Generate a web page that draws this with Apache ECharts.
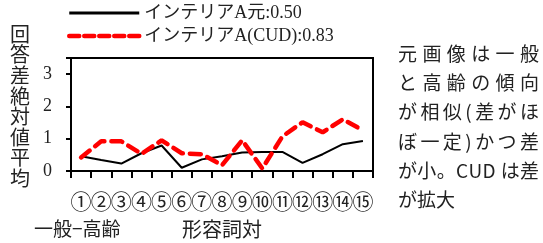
<!DOCTYPE html>
<html>
<head>
<meta charset="UTF-8">
<title>ECharts</title>
<script src="https://cdn.jsdelivr.net/npm/echarts@6/dist/echarts.min.js"></script>
<style>html,body{margin:0;padding:0;background:#fff;} #main{width:543px;height:243px;}</style>
</head>
<body>
<div id="main"></div>
<script>
    // 形容詞対 ①〜⑮
    var categories = ['①','②','③','④','⑤','⑥','⑦','⑧','⑨','⑩','⑪','⑫','⑬','⑭','⑮'];
    var seriesNames = ['インテリアA元', 'インテリアA(CUD)'];
    var seriesAvg = ['0.50', '0.83'];
    var origValues = [0.46, 0.34, 0.23, 0.55, 0.79, 0.10, 0.36, 0.46, 0.57, 0.59, 0.59, 0.25, 0.52, 0.83, 0.93];
    var cudValues = [0.42, 0.92, 0.92, 0.53, 0.95, 0.55, 0.52, 0.18, 0.95, 0.08, 1.07, 1.51, 1.20, 1.60, 1.26];
    var yTicks = [0, 1, 2, 3];
    var noteLines = ['元画像は一般', 'と高齢の傾向', 'が相似(差がほ', 'ぼ一定)かつ差', 'が小。CUD は差', 'が拡大'];

    var font = "'Liberation Serif', 'Noto Sans CJK JP'";
    var cjk = "'Noto Sans CJK JP'";
    var myChart = echarts.init(document.getElementById('main'));

    // 右側の注記：両端揃えっぽく1文字ずつ並べる
    function buildNote(x0, y0, boxW, lineH, size) {
        var ctx = document.createElement('canvas').getContext('2d');
        ctx.font = size + 'px ' + cjk;
        var els = [];
        noteLines.forEach(function (line, li) {
            var chars = Array.from(line);
            var widths = chars.map(function (c) { return ctx.measureText(c).width; });
            var total = widths.reduce(function (a, b) { return a + b; }, 0);
            var last = li === noteLines.length - 1;
            var gap = last ? 0 : (boxW - total) / (chars.length - 1);
            var x = x0;
            chars.forEach(function (c, i) {
                els.push({
                    type: 'text', x: x, y: y0 + li * lineH,
                    style: {text: c, font: size + 'px ' + cjk, fill: '#222', textVerticalAlign: 'middle'}
                });
                x += widths[i] + gap;
            });
        });
        return els;
    }

    var option = {
        animation: false,
        backgroundColor: '#fff',
        textStyle: {fontFamily: font, color: '#222'},
        legend: {
            orient: 'vertical',
            left: 67,
            top: 3,
            padding: 0,
            itemWidth: 70,
            itemHeight: 20,
            itemGap: 3,
            itemStyle: {opacity: 0},
            textStyle: {fontSize: 18, fontFamily: font, color: '#222', lineHeight: 20},
            formatter: function (name) {
                return name + ':' + seriesAvg[seriesNames.indexOf(name)];
            },
            data: [
                {name: seriesNames[0], lineStyle: {width: 3, color: '#000'}},
                {name: seriesNames[1], lineStyle: {width: 4.5, color: '#ff0000', type: [10, 5]}}
            ]
        },
        grid: {
            left: 71, top: 58, width: 302, height: 113,
            show: true, borderColor: '#000', borderWidth: 2,
            containLabel: false
        },
        xAxis: {
            type: 'category',
            data: categories,
            boundaryGap: true,
            axisLine: {lineStyle: {color: '#000', width: 2}},
            axisTick: {show: true, length: 7, interval: 0, lineStyle: {color: '#000', width: 2}},
            axisLabel: {interval: 0, fontSize: 21, margin: 20, color: '#222', fontFamily: cjk}
        },
        yAxis: {
            type: 'value',
            min: 0, max: 3.5, interval: 1,
            splitLine: {show: false},
            axisLine: {show: true, lineStyle: {color: '#000', width: 2}},
            axisTick: {show: true, length: 5, lineStyle: {color: '#000', width: 2}},
            axisLabel: {
                fontSize: 18, margin: 19, color: '#222', fontFamily: font,
                formatter: function (v) { return yTicks.indexOf(v) >= 0 ? String(v) : ''; }
            }
        },
        series: [
            {
                name: seriesNames[0], type: 'line', data: origValues,
                symbol: 'none', color: '#000',
                lineStyle: {color: '#000', width: 2}
            },
            {
                name: seriesNames[1], type: 'line', data: cudValues,
                symbol: 'none', color: '#ff0000',
                lineStyle: {color: '#ff0000', width: 4.5, type: [11, 7], cap: 'round'}
            }
        ],
        graphic: [
            {   // 縦書きの軸名
                type: 'text', left: 10, top: 24,
                style: {
                    text: '回\n答\n差\n絶\n対\n値\n平\n均',
                    font: "20px " + cjk, lineHeight: 20.6, fill: '#222'
                }
            },
            {
                type: 'text', left: 34, top: 219,
                style: {text: '一般−高齢', font: "19px " + cjk, fill: '#222'}
            },
            {
                type: 'text', left: 182, top: 219,
                style: {text: '形容詞対', font: "20px " + cjk, fill: '#222'}
            }
        ].concat(buildNote(398, 53.5, 141, 29.3, 19))
    };
    myChart.setOption(option);
</script>
</body>
</html>
